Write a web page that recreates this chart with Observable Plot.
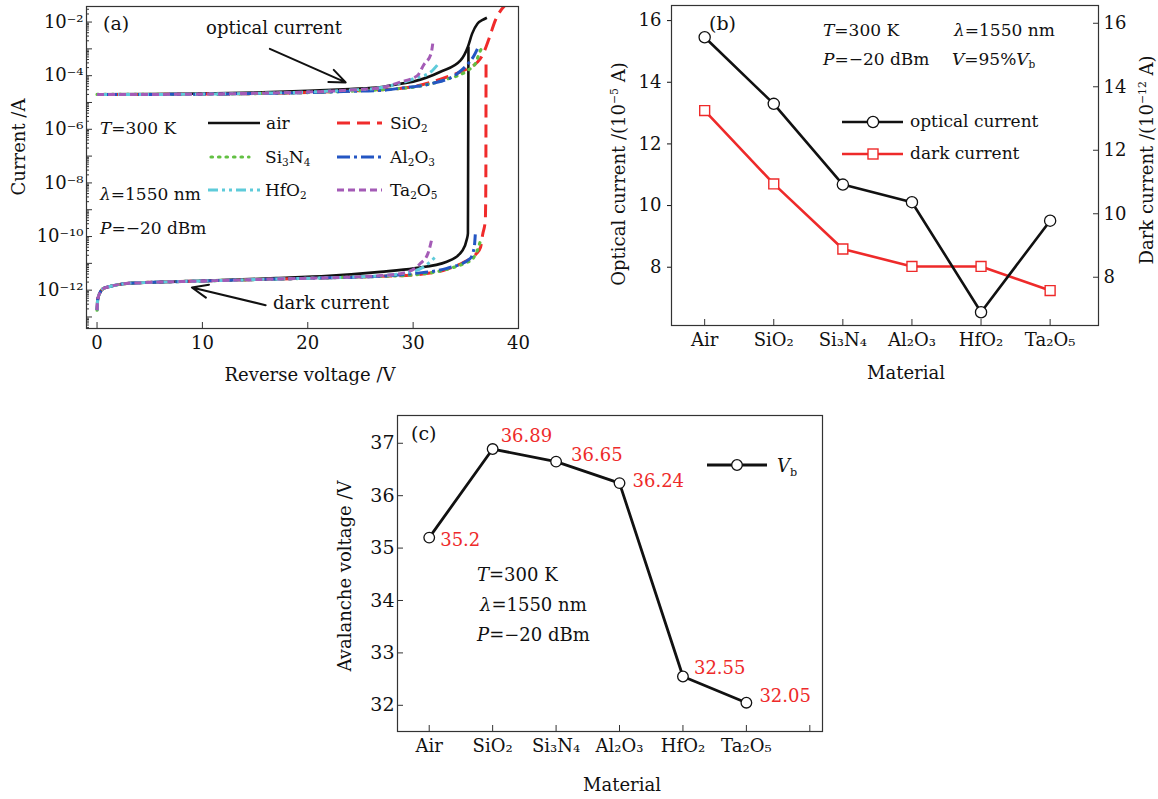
<!DOCTYPE html>
<html><head><meta charset="utf-8">
<script src="https://cdn.jsdelivr.net/npm/d3@7"></script>
<script src="https://cdn.jsdelivr.net/npm/@observablehq/plot@0.6"></script>
<style>
body{margin:0;background:#fff;}
#root{position:relative;width:1158px;height:799px;font-family:"DejaVu Serif",serif;color:#111;overflow:hidden;}
.abs{position:absolute;white-space:nowrap;font-size:17px;line-height:1;}
.abs sub{font-size:0.62em;vertical-align:-0.35em;line-height:0;}
</style></head><body><div id="root"></div>
<script>
// ---------------- Panel (a) data: current vs reverse voltage ----------------
const voltageTicks = [0, 10, 20, 30, 40];
const currentExpLabels = [-12, -10, -8, -6, -4, -2];

const airOptV = [0,5,10,15,20,24,27,28.5,30,32.6,34.5,35.2,35.6,36.1,36.6,37.0];
const airOptI = [2.0e-5,2.05e-5,2.15e-5,2.35e-5,2.7e-5,3.2e-5,3.8e-5,4.8e-5,6.0e-5,1.4e-4,3.7e-4,1.2e-3,3.7e-3,8.7e-3,1.2e-2,1.45e-2];
const airDarkV = [0,0.06,0.25,0.6,1.3,3,6,10,17,22,26.9,30.1,33.2,34.7,35.1,35.2,35.22,35.25];
const airDarkI = [1.8e-13,4.3e-13,7.6e-13,1.15e-12,1.4e-12,1.8e-12,2.0e-12,2.25e-12,2.8e-12,3.4e-12,4.8e-12,6.5e-12,1.15e-11,3.1e-11,8.0e-11,1.3e-10,1.0e-7,1.2e-3];

const sio2OptV = [0,5,10,15,20,24,27,30,33.2,35.1,36.1,36.6,37.2,37.8,38.9];
const sio2OptI = [2.0e-5,2.0e-5,2.05e-5,2.15e-5,2.35e-5,2.65e-5,3.0e-5,3.9e-5,8.9e-5,1.8e-4,3.2e-4,6.0e-4,2.4e-3,1.15e-2,5.0e-2];
const sio2DarkV = [0,0.06,0.25,0.6,1.3,3,6,10,17,22,27,30,33.2,34.8,36.0,36.4,36.6,36.85,36.9,36.92];
const sio2DarkI = [1.8e-13,4.3e-13,7.6e-13,1.15e-12,1.4e-12,1.8e-12,2.0e-12,2.2e-12,2.6e-12,2.9e-12,3.3e-12,3.7e-12,6.0e-12,1.1e-11,2.3e-11,4.0e-11,1.2e-10,4.0e-10,1.0e-8,4.0e-4];

const si3n4OptV = [0,5,10,15,20,24,27,30.1,33,35.2,35.9,36.4,36.6];
const si3n4OptI = [2.0e-5,2.0e-5,2.05e-5,2.15e-5,2.35e-5,2.65e-5,3.0e-5,3.8e-5,7.0e-5,1.6e-4,2.8e-4,8.9e-4,1.2e-3];
const si3n4DarkV = [0,0.06,0.25,0.6,1.3,3,6,10,17,22,27,30,33.2,35.0,35.6,36.2,36.4];
const si3n4DarkI = [1.8e-13,4.3e-13,7.6e-13,1.15e-12,1.4e-12,1.8e-12,2.0e-12,2.2e-12,2.6e-12,2.9e-12,3.3e-12,3.7e-12,6.0e-12,1.05e-11,1.4e-11,4.0e-11,7.2e-11];

const al2o3OptV = [0,5,10,15,20,24,26.9,29,31.7,34.2,35.1,35.8,36.1];
const al2o3OptI = [2.0e-5,2.0e-5,2.05e-5,2.15e-5,2.35e-5,2.6e-5,2.8e-5,3.5e-5,5.0e-5,1.2e-4,2.5e-4,5.8e-4,1.0e-3];
const al2o3DarkV = [0,0.06,0.25,0.6,1.3,3,6,10,17,22,27,30.1,33.2,35.4,35.8,35.9];
const al2o3DarkI = [1.8e-13,4.3e-13,7.6e-13,1.15e-12,1.4e-12,1.8e-12,2.0e-12,2.2e-12,2.6e-12,2.9e-12,3.3e-12,4.2e-12,6.5e-12,1.5e-11,4.0e-11,1.2e-10];

const hfo2OptV = [0,5,10,15,20,24,27,30.1,31.7,32.3];
const hfo2OptI = [2.0e-5,2.0e-5,2.05e-5,2.2e-5,2.45e-5,2.9e-5,3.6e-5,7.8e-5,1.4e-4,2.5e-4];
const hfo2DarkV = [0,0.06,0.25,0.6,1.3,3,6,10,17,22,27,29,31.0,32.1];
const hfo2DarkI = [1.8e-13,4.3e-13,7.6e-13,1.15e-12,1.4e-12,1.8e-12,2.0e-12,2.2e-12,2.6e-12,2.9e-12,3.5e-12,4.2e-12,7.4e-12,1.7e-11];

const ta2o5OptV = [0,5,10,15,20,24,27,28.8,30.4,31.0,31.7,31.9];
const ta2o5OptI = [2.0e-5,2.0e-5,2.05e-5,2.2e-5,2.45e-5,2.9e-5,3.6e-5,5.8e-5,1.0e-4,2.5e-4,6.6e-4,2.1e-3];
const ta2o5DarkV = [0,0.06,0.25,0.6,1.3,3,6,10,17,22,27,29,30.7,31.4,31.8];
const ta2o5DarkI = [1.8e-13,4.3e-13,7.6e-13,1.15e-12,1.4e-12,1.8e-12,2.0e-12,2.2e-12,2.6e-12,2.9e-12,3.5e-12,4.3e-12,1.0e-11,2.3e-11,9.0e-11];

// ---------------- Panels (b), (c) data ----------------
const materials = ["Air", "SiO₂", "Si₃N₄", "Al₂O₃", "HfO₂", "Ta₂O₅"];
const opticalCurrent = [15.46, 13.30, 10.68, 10.11, 6.54, 9.51];   // 10^-5 A
const darkCurrent = [13.25, 10.94, 8.89, 8.34, 8.34, 7.58];        // 10^-12 A
const opticalTicks = [8, 10, 12, 14, 16];
const darkTicks = [8, 10, 12, 14, 16];
const avalancheVoltage = [35.2, 36.89, 36.65, 36.24, 32.55, 32.05];
const avalancheLabels = ["35.2", "36.89", "36.65", "36.24", "32.55", "32.05"];
const voltTicksC = [32, 33, 34, 35, 36, 37];

// ---------------- styles ----------------
const RED = "#ee2a2a";
const seriesStyle = [
  {name: "air", optV: airOptV, optI: airOptI, darkV: airDarkV, darkI: airDarkI, color: "#111", dash: null, w: 2.6},
  {name: "SiO2", optV: sio2OptV, optI: sio2OptI, darkV: sio2DarkV, darkI: sio2DarkI, color: "#f02b2b", dash: "13,7", w: 3},
  {name: "Si3N4", optV: si3n4OptV, optI: si3n4OptI, darkV: si3n4DarkV, darkI: si3n4DarkI, color: "#62c043", dash: "1.5,6", w: 3.2},
  {name: "Al2O3", optV: al2o3OptV, optI: al2o3OptI, darkV: al2o3DarkV, darkI: al2o3DarkI, color: "#2456c3", dash: "13,4,3,4", w: 3},
  {name: "HfO2", optV: hfo2OptV, optI: hfo2OptI, darkV: hfo2DarkV, darkI: hfo2DarkI, color: "#5ecbda", dash: "10,4,3,4,3,4", w: 3},
  {name: "Ta2O5", optV: ta2o5OptV, optI: ta2o5OptI, darkV: ta2o5DarkV, darkI: ta2o5DarkI, color: "#a45bb6", dash: "7,4", w: 3}
];

const root = document.getElementById("root");
const FONT = "'DejaVu Serif', serif";
const baseStyle = {fontFamily: FONT, fontSize: "17px", background: "transparent", color: "#111", overflow: "visible"};
function place(svg, left, top) {
  svg.style.position = "absolute"; svg.style.left = left + "px"; svg.style.top = top + "px";
  root.appendChild(svg);
}
function txt(html, x, y, mode = "start", extra = {}) {
  const d = document.createElement("div");
  d.className = "abs"; d.innerHTML = html;
  d.style.left = x + "px"; d.style.top = y + "px";
  d.style.transform = mode === "start" ? "translateY(-50%)" : mode === "center" ? "translate(-50%,-50%)" : "translate(-50%,-50%) rotate(-90deg)";
  Object.assign(d.style, extra);
  root.appendChild(d);
}
const supMap = {"-": "⁻", "0": "⁰", "1": "¹", "2": "²", "3": "³", "4": "⁴", "5": "⁵", "6": "⁶", "7": "⁷", "8": "⁸", "9": "⁹"};
const powFmt = d => "10" + String(Math.round(Math.log10(d))).split("").map(c => supMap[c]).join("");

// ================= Panel (a) =================
{
  const W = 540, H = 400, mL = 86, mR = 22, mT = 6, mB = 72;
  const inW = W - mL - mR, inH = H - mT - mB;
  const lo = 10 ** -13.43, hi = 10 ** -1.42;
  const major = d3.range(-13, -1).map(e => 10 ** e);
  const minor = [];
  for (let e = -14; e <= -2; e++) for (let k = 2; k <= 9; k++) { const v = k * 10 ** e; if (v > lo && v < hi) minor.push(v); }
  const labeled = currentExpLabels.map(e => 10 ** e);
  const lineMarks = [];
  for (const s of seriesStyle) {
    const opt = s.optV.map((v, i) => ({V: v, I: s.optI[i]}));
    const dark = s.darkV.map((v, i) => ({V: v, I: s.darkI[i]}));
    for (const data of [opt, dark]) {
      lineMarks.push(Plot.line(data, {x: "V", y: "I", stroke: s.color, strokeWidth: s.w, strokeDasharray: s.dash,
        strokeLinecap: s.name === "Si3N4" ? "round" : "butt", curve: "monotone-x", clip: true}));
    }
  }
  const arrows = [
    {x1: 16.4, y1: 1.0e-3, x2: 23.6, y2: 5.6e-5},
    {x1: 16.0, y1: 2.75e-13, x2: 9.0, y2: 1.26e-12}
  ];
  const notes = [
    {V: 16.8, I: 10 ** -2.23, t: "optical current"},
    {V: 22.2, I: 10 ** -12.48, t: "dark current"}
  ];
  const svg = Plot.plot({
    width: W, height: H, marginLeft: mL, marginRight: mR, marginTop: mT, marginBottom: mB,
    style: baseStyle,
    x: {domain: [-1, 40], label: null},
    y: {type: "log", domain: [lo, hi], label: null},
    marks: [
      ...lineMarks,
      Plot.arrow(arrows, {x1: "x1", y1: "y1", x2: "x2", y2: "y2", stroke: "#111", strokeWidth: 2, headLength: 13, headAngle: 45}),
      Plot.text(notes, {x: "V", y: "I", text: "t", fontSize: 18, fill: "#111"}),
      Plot.tickY(major, {y: d => d, insetRight: inW - 6, stroke: "#333"}),
      Plot.tickY(minor, {y: d => d, insetRight: inW - 3, stroke: "#333"}),
      Plot.tickX(voltageTicks, {x: d => d, insetTop: inH - 6, stroke: "#333"}),
      Plot.axisY({ticks: labeled, tickSize: 0, tickPadding: 3, tickFormat: powFmt, label: null, fontSize: 18}),
      Plot.axisX({ticks: voltageTicks, tickSize: 0, tickPadding: 8, label: null, fontSize: 18}),
      Plot.frame({stroke: "#333", strokeWidth: 1.2})
    ]
  });
  place(svg, 0, 0);
}

// ================= Panel (b) =================
{
  const W = 578, H = 400, mL = 91, mR = 60, mT = 5, mB = 75;
  const inW = W - mL - mR, inH = H - mT - mB;
  const idx = d3.range(materials.length);
  const darkSvg = Plot.plot({
    width: W, height: H, marginLeft: mL, marginRight: mR, marginTop: mT, marginBottom: mB,
    style: baseStyle,
    x: {domain: [-0.48, 5.70], axis: null},
    y: {domain: [6.48, 16.56], label: null},
    marks: [
      Plot.tickY(darkTicks, {y: d => d, insetLeft: inW - 5, stroke: "#333"}),
      Plot.axisY({anchor: "right", ticks: darkTicks, tickSize: 0, tickPadding: 5, label: null, fontSize: 18}),
      Plot.line(idx, {x: i => i, y: i => darkCurrent[i], stroke: RED, strokeWidth: 2.6}),
      Plot.dot(idx, {x: i => i, y: i => darkCurrent[i], symbol: "square", r: 5.6, fill: "white", stroke: RED, strokeWidth: 1.4})
    ]
  });
  place(darkSvg, 580, 0);
  const optSvg = Plot.plot({
    width: W, height: H, marginLeft: mL, marginRight: mR, marginTop: mT, marginBottom: mB,
    style: baseStyle,
    x: {domain: [-0.48, 5.70], label: null},
    y: {domain: [6.11, 16.49], label: null},
    marks: [
      Plot.tickX(idx, {x: i => i, insetTop: inH - 6, stroke: "#333"}),
      Plot.axisY({ticks: opticalTicks, tickSize: 4, tickPadding: 6, label: null, fontSize: 18}),
      Plot.axisX({ticks: idx, tickSize: 0, tickPadding: 8, tickFormat: i => materials[i], label: null, fontSize: 18}),
      Plot.line(idx, {x: i => i, y: i => opticalCurrent[i], stroke: "#111", strokeWidth: 2.6}),
      Plot.dot(idx, {x: i => i, y: i => opticalCurrent[i], r: 5.6, fill: "white", stroke: "#111", strokeWidth: 1.3}),
      Plot.frame({stroke: "#333", strokeWidth: 1.2})
    ]
  });
  place(optSvg, 580, 0);
}

// ================= Panel (c) =================
{
  const W = 520, H = 399, mL = 77, mR = 18, mT = 15, mB = 68;
  const inW = W - mL - mR, inH = H - mT - mB;
  const idx = d3.range(materials.length);
  const labelOffsets = [[11, 3], [8, -13], [15, -6], [13, -2], [11, -8], [13, -6]];
  const svg = Plot.plot({
    width: W, height: H, marginLeft: mL, marginRight: mR, marginTop: mT, marginBottom: mB,
    style: baseStyle,
    x: {domain: [-0.5, 6.2], label: null},
    y: {domain: [31.5, 37.53], label: null},
    marks: [
      Plot.tickY(voltTicksC, {y: d => d, insetRight: inW - 6, stroke: "#333"}),
      Plot.tickX(d3.range(materials.length + 1), {x: d => d, insetTop: inH - 6, stroke: "#333"}),
      Plot.axisY({ticks: voltTicksC, tickSize: 0, tickPadding: 3, tickFormat: d3.format("d"), label: null, fontSize: 19}),
      Plot.axisX({ticks: idx, tickSize: 0, tickPadding: 8, tickFormat: i => materials[i], label: null, fontSize: 18}),
      Plot.line(idx, {x: i => i, y: i => avalancheVoltage[i], stroke: "#111", strokeWidth: 2.8}),
      Plot.dot(idx, {x: i => i, y: i => avalancheVoltage[i], r: 5.3, fill: "white", stroke: "#111", strokeWidth: 1.3}),
      ...idx.map(i => Plot.text([i], {x: d => d, y: d => avalancheVoltage[d], text: d => avalancheLabels[d],
        textAnchor: "start", dx: labelOffsets[i][0], dy: labelOffsets[i][1], fill: RED, fontSize: 18})),
      Plot.frame({stroke: "#333", strokeWidth: 1.2})
    ]
  });
  place(svg, 320, 400);
}

// ================= Legends (overlay) =================
const ov = d3.select(root).append("svg").attr("width", 1158).attr("height", 799)
  .style("position", "absolute").style("left", 0).style("top", 0).style("pointer-events", "none");
const legendA = [
  {s: 0, x1: 208, x2: 260, y: 123, tx: 266, label: "air"},
  {s: 1, x1: 337, x2: 382, y: 123, tx: 390, label: "SiO<sub>2</sub>"},
  {s: 2, x1: 211, x2: 249, y: 157, tx: 265, label: "Si<sub>3</sub>N<sub>4</sub>"},
  {s: 3, x1: 337, x2: 382, y: 157, tx: 390, label: "Al<sub>2</sub>O<sub>3</sub>"},
  {s: 4, x1: 208, x2: 260, y: 190, tx: 265, label: "HfO<sub>2</sub>"},
  {s: 5, x1: 337, x2: 382, y: 190, tx: 390, label: "Ta<sub>2</sub>O<sub>5</sub>"}
];
for (const e of legendA) {
  const s = seriesStyle[e.s];
  ov.append("line").attr("x1", e.x1).attr("x2", e.x2).attr("y1", e.y).attr("y2", e.y)
    .attr("stroke", s.color).attr("stroke-width", s.w).attr("stroke-dasharray", s.dash)
    .attr("stroke-linecap", s.name === "Si3N4" ? "round" : "butt");
  txt(e.label, e.tx, e.y);
}
// (b) legend
ov.append("line").attr("x1", 842).attr("x2", 903).attr("y1", 122).attr("y2", 122).attr("stroke", "#111").attr("stroke-width", 2.6);
ov.append("circle").attr("cx", 873).attr("cy", 122).attr("r", 5.6).attr("fill", "white").attr("stroke", "#111").attr("stroke-width", 1.3);
ov.append("line").attr("x1", 842).attr("x2", 903).attr("y1", 154).attr("y2", 154).attr("stroke", RED).attr("stroke-width", 2.6);
ov.append("rect").attr("x", 868).attr("y", 149).attr("width", 10).attr("height", 10).attr("fill", "white").attr("stroke", RED).attr("stroke-width", 1.4);
txt("optical current", 910, 121);
txt("dark current", 910, 153);
// (c) legend
ov.append("line").attr("x1", 707).attr("x2", 767).attr("y1", 465).attr("y2", 465).attr("stroke", "#111").attr("stroke-width", 2.8);
ov.append("circle").attr("cx", 737).attr("cy", 465).attr("r", 5.3).attr("fill", "white").attr("stroke", "#111").attr("stroke-width", 1.3);
txt("<i>V</i><sub>b</sub>", 777, 466, "start", {fontSize: "18px"});

// ================= Annotations & axis titles =================
txt("(a)", 103, 23, "start", {fontSize: "19px"});
txt("<i>T</i>=300 K", 100, 128);
txt("<i>λ</i>=1550 nm", 100, 194);
txt("<i>P</i>=−20 dBm", 100, 228);
txt("Current /A", 19, 147, "rot", {fontSize: "18px"});
txt("Reverse voltage /V", 310, 375, "center", {fontSize: "18px"});

txt("(b)", 709, 23, "start", {fontSize: "19px"});
txt("<i>T</i>=300 K", 823, 30);
txt("<i>λ</i>=1550 nm", 954, 30);
txt("<i>P</i>=−20 dBm", 823, 59);
txt("<i>V</i>=95%<i>V</i><sub>b</sub>", 952, 59);
txt("Optical current /(10<sup style='font-size:0.6em'>−5</sup> A)", 619, 174, "rot", {fontSize: "18px"});
txt("Dark current /(10<sup style='font-size:0.6em'>−12</sup> A)", 1147, 160, "rot", {fontSize: "18px"});
txt("Material", 906, 373, "center", {fontSize: "18px"});

txt("(c)", 411, 433, "start", {fontSize: "19px"});
txt("<i>T</i>=300 K", 477, 575, "start", {fontSize: "18px"});
txt("<i>λ</i>=1550 nm", 480, 605, "start", {fontSize: "18px"});
txt("<i>P</i>=−20 dBm", 477, 635, "start", {fontSize: "18px"});
txt("Avalanche voltage /V", 345, 576, "rot", {fontSize: "18px"});
txt("Material", 622, 785, "center", {fontSize: "18px"});
</script></body></html>
